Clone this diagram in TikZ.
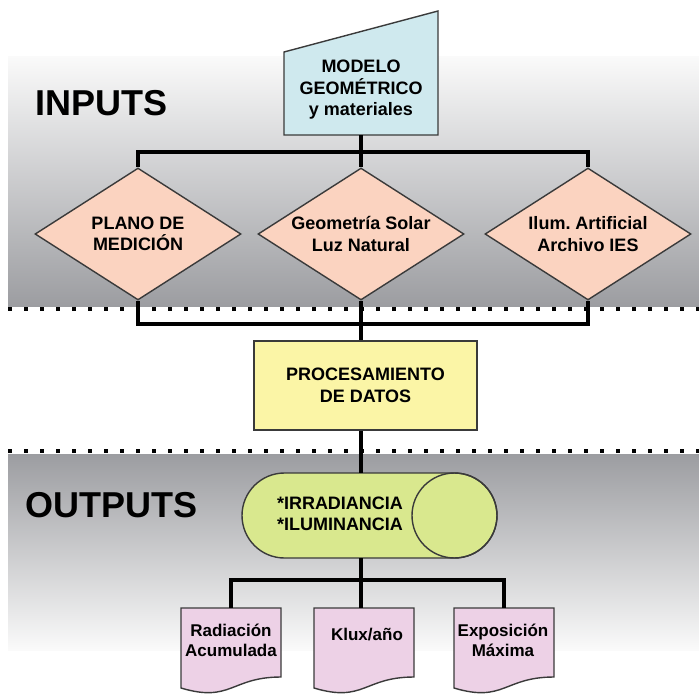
\documentclass[tikz,border=0pt]{standalone}
\usepackage{fontspec}
\setmainfont{Liberation Sans}
\usetikzlibrary{shapes.geometric,calc}
\definecolor{peach}{HTML}{FBD3C0}
\definecolor{cyanbox}{HTML}{CFE9EE}
\definecolor{yelbox}{HTML}{FBF5A6}
\definecolor{limebox}{HTML}{D9E88E}
\definecolor{pinkbox}{HTML}{EDD1E6}
\definecolor{bandgray}{HTML}{9C9DA1}
\definecolor{bandlight}{HTML}{FAFAFA}
\definecolor{edgecol}{HTML}{3A3A3A}
\newcommand\docshape[2]{%
  \filldraw[outl, fill=pinkbox, shift={(#1.north west)}]
    (0,0) -- (#2,0) -- (#2,69) .. controls (#2/2,69) and (#2/2,95) .. (0,80) -- cycle;}
\begin{document}
\begin{tikzpicture}[x=1pt,y=-1pt,
  conn/.style={line width=4pt, black},
  outl/.style={draw=edgecol, line width=1.4pt},
  lbl/.style={font=\fontsize{18}{21.5}\selectfont\bfseries\frenchspacing, align=center, inner sep=0pt},
  doctxt/.style={font=\fontsize{17}{20}\selectfont\bfseries, align=center, inner sep=0pt},
  dia/.style={diamond, outl, fill=peach, minimum width=206pt, minimum height=132pt, inner sep=0pt},
  ghost/.style={inner sep=0pt, outer sep=0pt},
  dotline/.style={line width=3.5pt, dash pattern=on 3.5pt off 12.5pt, black},
  head/.style={font=\fontsize{36}{40}\selectfont\bfseries, inner sep=0pt, anchor=west}
]
\useasboundingbox (0,0) rectangle (699,694);
% bands
\shade[top color=bandlight, bottom color=bandgray] (8,56) rectangle (699,306);
\shade[top color=bandgray, bottom color=bandlight] (8,454) rectangle (699,650);
\draw[dotline] (8,309) -- (699,309);
\draw[dotline] (8,451) -- (699,451);
% headings
\node[head] (inp) at (35,103) {INPUTS};
\node[head] (outp) at (25,505) {OUTPUTS};
% model box
\node[ghost, minimum width=154pt, minimum height=124pt] (mdl) at (361,73) {};
\filldraw[outl, fill=cyanbox] (mdl.south west) -- ($(mdl.south west)+(0,-83)$) -- (mdl.north east) -- (mdl.south east) -- cycle;
\node[lbl] (mdltxt) at (361,90) {MODELO\\GEOMÉTRICO\\y materiales};
% diamonds
\node[dia] (d1) at (138,234) {};
\node[dia] (d2) at (361,234) {};
\node[dia] (d3) at (588,234) {};
\node[lbl] at (d1) {PLANO DE\\MEDICIÓN};
\node[lbl] at (d2) {Geometría Solar\\Luz Natural};
\node[lbl] at (d3) {Ilum. Artificial\\Archivo IES};
% processing
\node[outl, fill=yelbox, minimum width=223pt, minimum height=89pt, lbl] (proc) at (365.5,385.5) {PROCESAMIENTO\\DE DATOS};
% cylinder (horizontal, drawn around a named node)
\node[ghost, minimum width=255pt, minimum height=85pt] (cyl) at (369.5,515.5) {};
\filldraw[outl, fill=limebox, shift={(cyl.center)}]
  (-85,-42.5) -- (85,-42.5) arc[start angle=-90, end angle=90, radius=42.5]
  -- (-85,42.5) arc[start angle=90, end angle=270, radius=42.5] -- cycle;
\draw[outl, shift={(cyl.center)}] (85,0) circle[radius=42.5];
\node[lbl] (cyltxt) at (340,514) {*IRRADIANCIA\\*ILUMINANCIA};
% documents
\node[ghost, minimum width=100pt, minimum height=86pt] (r1) at (231,651) {};
\node[ghost, minimum width=100pt, minimum height=86pt] (k) at (364,651) {};
\node[ghost, minimum width=100pt, minimum height=86pt] (e1) at (504,651) {};
\docshape{r1}{100}
\docshape{k}{100}
\docshape{e1}{100}
\node[doctxt] at (231,640) {Radiación\\Acumulada};
\node[doctxt] at (367,635) {Klux/año};
\node[doctxt] at (503,640) {Exposición\\Máxima};
% connectors
\draw[conn] (d1.north) -- ++(0,-15) -| (d3.north);
\draw[conn] (mdl.south) -- (d2.north);
\draw[conn] (d1.south) -- ++(0,23) -| (d3.south);
\draw[conn] (d2.south) -- (d2.south |- proc.north);
\draw[conn] (d2.south |- proc.south) -- (d2.south |- cyl.north);
\draw[conn] (d2.south |- cyl.south) -- (d2.south |- k.north);
\draw[conn] (r1.north) -- ++(0,-28) -| (e1.north);
\end{tikzpicture}
\end{document}
